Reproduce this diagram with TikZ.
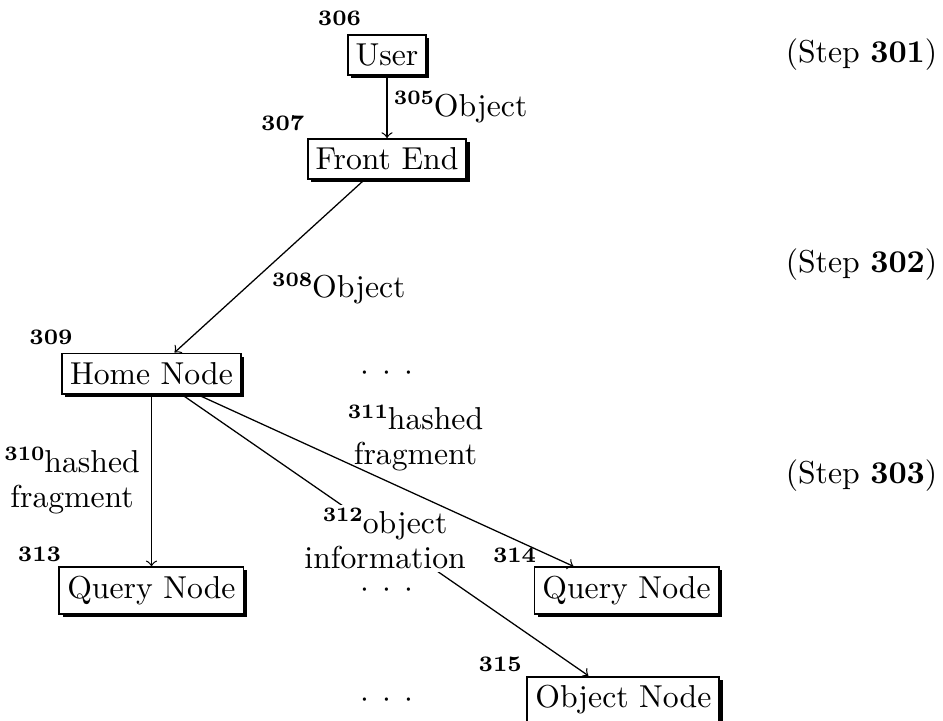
\documentclass[tikz,border=0pt]{standalone}
\usepackage{tikz}
\usetikzlibrary{shapes,arrows,positioning,shadows}
\tikzstyle{box} = [rectangle, draw=black, line width=0.6pt, fill=white, inner xsep=2.5pt, inner ysep=2.8pt, drop shadow={shadow xshift=1pt, shadow yshift=-1pt, fill=black, opacity=1}]
\tikzstyle{num} = [font=\scriptsize\bfseries, inner sep=0pt]
\tikzstyle{lbl} = [inner sep=2pt, align=center]
\tikzstyle{steplbl} = [anchor=east, inner sep=0pt]
\tikzstyle{gap} = [inner sep=0pt]
\tikzstyle{flow} = [draw, line width=0.4pt, >=to, ->]
\newcommand{\sepdots}{$\cdot$\hspace{4.3pt}$\cdot$\hspace{4.3pt}$\cdot$}
\newcommand{\refnum}[1]{\raisebox{3.6pt}{\fontsize{6.5pt}{7pt}\selectfont\bfseries #1}}

\begin{document}
\begin{tikzpicture}
\useasboundingbox (-122.1pt,-209.8pt) rectangle (175.4pt,17.35pt);

% boxes =============================

% user and front end
\node[box] (user) {User};
\node[box, below=19.6pt of user] (front) {Front End};

% home node
\node[box, below left=54.4pt and 20.5pt of front] (home) {Home Node};

% query and object nodes
\node[box, below=54.2pt of home] (queryL) {Query Node};
\node[box, right=91.2pt of queryL] (queryR) {Query Node};
\node[box, below=19.2pt of queryR, xshift=-1pt] (object) {Object Node};

% reference numbers
\node[num, above left=2.3pt and -4.7pt of user] (n306) {306};
\node[num, above left=2.2pt and 0.6pt of front] (n307) {307};
\node[num, above left=2.2pt and -3.8pt of home] (n309) {309};
\node[num, above left=1.3pt and -1pt of queryL] (n313) {313};
\node[num, above left=1pt and -1pt of queryR] (n314) {314};
\node[num, above left=1pt and 1.3pt of object] (n315) {315};

% dots
\node[gap] (dots1) at (front |- home) {\sepdots};
\node[gap] (dots2) at (front |- queryL) {\sepdots};
\node[gap] (dots3) at (front |- object) {\sepdots};

% steps
\node[steplbl] (step1) at (173.8pt,0pt) {(Step \textbf{301})};
\node[steplbl] (step2) at (173.8pt,-66.2pt) {(Step \textbf{302})};
\node[steplbl] (step3) at (173.8pt,-132.8pt) {(Step \textbf{303})};

%edges
\path[flow] (user) -- node[lbl, right] (l305) {\refnum{305}Object} (front);
\path[flow] (front) -- node[lbl, pos=0.63, right=6.5pt] (l308) {\refnum{308}Object} (home);
\path[flow] (home) -- node[lbl, left=1.5pt] (l310) {\refnum{310}hashed\\[-1pt]fragment} (queryL);
\path[flow] (home) -- node[lbl, fill=white, inner sep=1pt, yshift=-1pt] (l312) {\refnum{312}object\\[-1pt]information} (object);
\path[flow] (home) -- node[lbl, pos=0.58, above=5pt] (l311) {\refnum{311}hashed\\[-1pt]fragment} (queryR);

\end{tikzpicture}
\end{document}
